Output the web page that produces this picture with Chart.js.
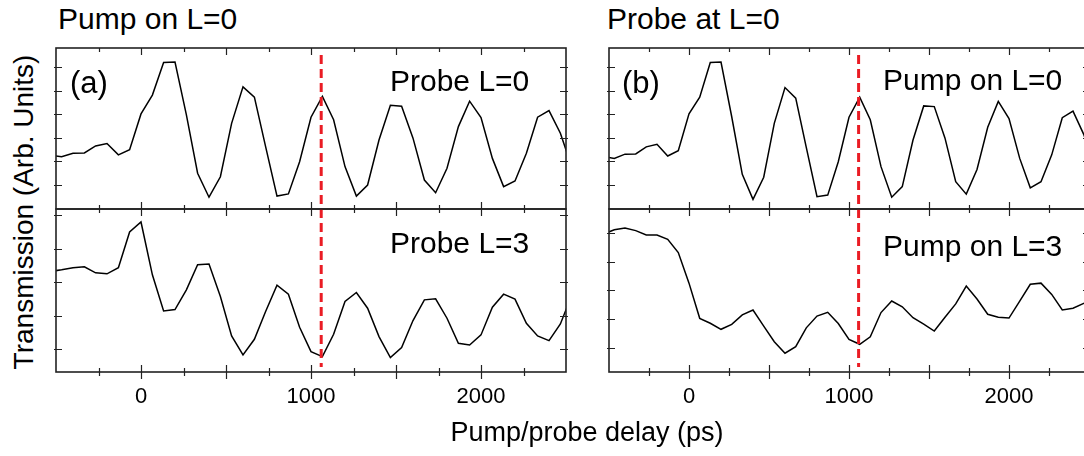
<!DOCTYPE html>
<html>
<head>
<meta charset="utf-8">
<script src="https://cdn.jsdelivr.net/npm/chart.js@4.4.1/dist/chart.umd.min.js"></script>
<style>
  body { margin: 0; width: 1084px; height: 456px; overflow: hidden; background: #fff; position: relative;
         font-family: "Liberation Sans", Arial, sans-serif; color: #000; }
  .panel { position: absolute; }
  .txt { position: absolute; white-space: nowrap; line-height: 1; }
</style>
</head>
<body>
<div class="panel" id="boxA1"><canvas id="cA1"></canvas></div>
<div class="panel" id="boxA2"><canvas id="cA2"></canvas></div>
<div class="panel" id="boxB1"><canvas id="cB1"></canvas></div>
<div class="panel" id="boxB2"><canvas id="cB2"></canvas></div>

<div class="txt" style="left:58px;top:4px;font-size:30px">Pump on L=0</div>
<div class="txt" style="left:607px;top:4px;font-size:30px">Probe at L=0</div>
<div class="txt" style="left:70px;top:67px;font-size:31px">(a)</div>
<div class="txt" style="left:390px;top:66px;font-size:30px">Probe L=0</div>
<div class="txt" style="left:390px;top:228px;font-size:30px">Probe L=3</div>
<div class="txt" style="left:622px;top:67px;font-size:31px">(b)</div>
<div class="txt" style="left:883px;top:65px;font-size:30px">Pump on L=0</div>
<div class="txt" style="left:883px;top:231px;font-size:30px">Pump on L=3</div>
<div class="txt" style="left:-136px;top:198px;width:320px;height:28px;text-align:center;font-size:28px;transform:rotate(-90deg)">Transmission (Arb. Units)</div>
<div class="txt" style="left:387px;top:419px;width:400px;text-align:center;font-size:27px">Pump/probe delay (ps)</div>

<script>
// delay (ps) of each measured point
const delays = [-533, -467, -400, -333, -267, -200, -133, -67,
  0, 67, 133, 200, 267, 333, 400, 467, 533, 600, 667, 733, 800, 867, 933,
  1000, 1067, 1133, 1200, 1267, 1333, 1400, 1467, 1533, 1600, 1667, 1733, 1800, 1867, 1933,
  2000, 2067, 2133, 2200, 2267, 2333, 2400, 2467, 2533];

// (a) pump on L=0
const probeL0 = [2.26, 2.20, 2.35, 2.36, 2.66, 2.76, 2.28, 2.50,
  4.02, 4.82, 6.20, 6.22, 3.98, 1.50, 0.48, 1.35, 3.62, 5.17, 4.73, 2.63, 0.53, 0.62, 1.99,
  3.88, 4.76, 3.77, 1.78, 0.53, 1.00, 2.91, 4.39, 4.35, 2.99, 1.21, 0.67, 1.71, 3.48, 4.56,
  3.86, 2.13, 0.93, 1.17, 2.35, 3.88, 4.16, 3.20, 1.78];
const probeL3 = [3.32, 3.37, 3.43, 3.46, 3.28, 3.25, 3.43, 4.50,
  4.80, 3.22, 2.14, 2.18, 2.77, 3.52, 3.54, 2.57, 1.39, 0.82, 1.29, 2.12, 2.91, 2.64, 1.65,
  0.92, 0.77, 1.44, 2.42, 2.69, 2.22, 1.37, 0.74, 1.04, 1.85, 2.47, 2.50, 1.92, 1.17, 1.12,
  1.42, 2.25, 2.64, 2.49, 1.77, 1.39, 1.25, 1.75, 2.60];

// (b) probe at L=0
const pumpL0 = [2.20, 2.13, 2.31, 2.32, 2.62, 2.73, 2.23, 2.46,
  4.02, 4.73, 6.20, 6.22, 3.90, 1.45, 0.39, 1.33, 3.62, 5.14, 4.69, 2.60, 0.50, 0.57, 1.99,
  3.88, 4.73, 3.77, 1.78, 0.48, 0.93, 2.91, 4.36, 4.33, 2.99, 1.14, 0.61, 1.66, 3.45, 4.55,
  3.82, 2.13, 0.88, 1.14, 2.28, 3.86, 4.14, 3.15, 1.80];
const pumpL3 = [4.95, 5.10, 5.16, 5.07, 4.92, 4.92, 4.77, 4.31,
  3.25, 2.03, 1.86, 1.65, 1.82, 2.15, 2.32, 1.76, 1.22, 0.82, 1.05, 1.70, 2.11, 2.24, 1.85,
  1.30, 1.13, 1.39, 2.23, 2.63, 2.43, 2.05, 1.83, 1.59, 2.07, 2.53, 3.15, 2.70, 2.17, 2.07,
  2.04, 2.63, 3.21, 3.25, 2.86, 2.32, 2.38, 2.55, 2.70];

const xTickLabels = [0, 1000, 2000];
const xTicks = [-250, 0, 250, 500, 750, 1000, 1250, 1500, 1750, 2000, 2250];
const yTicksTop = [1, 2, 3, 4, 5, 6];
const yTicksBottom = [1, 2, 3, 4, 5];
const redDelay = 1060;

const pad = 10;

// frame with inward ticks, drawn from the chart's own scales
const marco = {
  id: 'marco',
  afterDatasetsDraw(chart, args, opts) {
    const ctx = chart.ctx;
    const a = chart.chartArea;
    const sx = chart.scales.x;
    const sy = chart.scales.y;
    ctx.save();
    ctx.strokeStyle = '#222';
    ctx.lineWidth = 1.2;
    ctx.beginPath();
    xTicks.forEach(v => {
      const px = Math.round(sx.getPixelForValue(v)) + 0.5;
      const len = v % 500 === 0 ? 7 : 4;
      ctx.moveTo(px, a.top); ctx.lineTo(px, a.top + len);
      ctx.moveTo(px, a.bottom - len);
      ctx.lineTo(px, opts.labels ? a.bottom + len : a.bottom);
    });
    opts.yTicks.forEach(v => {
      const py = Math.round(sy.getPixelForValue(v)) + 0.5;
      ctx.moveTo(a.left - 2, py); ctx.lineTo(a.left + 6, py);
      ctx.moveTo(a.right - 6, py); ctx.lineTo(a.right + 2, py);
    });
    ctx.stroke();
    ctx.lineWidth = 1.6;
    ctx.strokeRect(a.left, a.top, a.right - a.left, a.bottom - a.top);
    if (opts.labels) {
      ctx.fillStyle = '#000';
      ctx.font = '22px "Liberation Sans", Arial, sans-serif';
      ctx.textAlign = 'center';
      ctx.textBaseline = 'alphabetic';
      xTickLabels.forEach(v => {
        ctx.fillText(String(v), sx.getPixelForValue(v), a.bottom + 31);
      });
    }
    ctx.restore();
  }
};

function crearPanel(id, caja, serie, yMin, yMax, yTicks, rojo, labels) {
  const extra = labels ? 45 : 0;
  const box = document.getElementById('box' + id);
  box.style.left = (caja.left - pad) + 'px';
  box.style.top = (caja.top - pad) + 'px';
  const canvas = document.getElementById('c' + id);
  canvas.width = caja.w + 2 * pad;
  canvas.height = caja.h + 2 * pad + extra;
  return new Chart(canvas, {
    type: 'line',
    data: {
      datasets: [
        {
          data: [{ x: redDelay, y: rojo[0] }, { x: redDelay, y: rojo[1] }],
          borderColor: '#ea1c24', borderWidth: 3, borderDash: [9, 5],
          pointRadius: 0
        },
        {
          data: delays.map((d, i) => ({ x: d, y: serie[i] })),
          borderColor: '#000', borderWidth: 1.5, pointRadius: 0, tension: 0
        }
      ]
    },
    options: {
      responsive: false,
      animation: false,
      devicePixelRatio: 1,
      layout: { padding: { left: pad, right: pad, top: pad, bottom: pad + extra } },
      plugins: {
        legend: { display: false },
        tooltip: { enabled: false },
        marco: { yTicks: yTicks, labels: labels }
      },
      scales: {
        x: { type: 'linear', min: -500, max: 2500, display: false },
        y: { type: 'linear', min: yMin, max: yMax, display: false }
      }
    },
    plugins: [marco]
  });
}

crearPanel('A1', { left: 56, top: 48, w: 510, h: 161 }, probeL0, -0.02, 6.82, yTicksTop, [6.52, -0.02], false);
crearPanel('A2', { left: 56, top: 209, w: 510, h: 163 }, probeL3, 0.31, 5.19, yTicksBottom, [5.19, 0.46], true);
crearPanel('B1', { left: 609, top: 48, w: 480, h: 161 }, pumpL0, -0.02, 6.82, yTicksTop, [6.52, -0.02], false);
crearPanel('B2', { left: 609, top: 209, w: 480, h: 163 }, pumpL3, 0.17, 5.82, yTicksBottom, [5.82, 0.34], true);
</script>
</body>
</html>
